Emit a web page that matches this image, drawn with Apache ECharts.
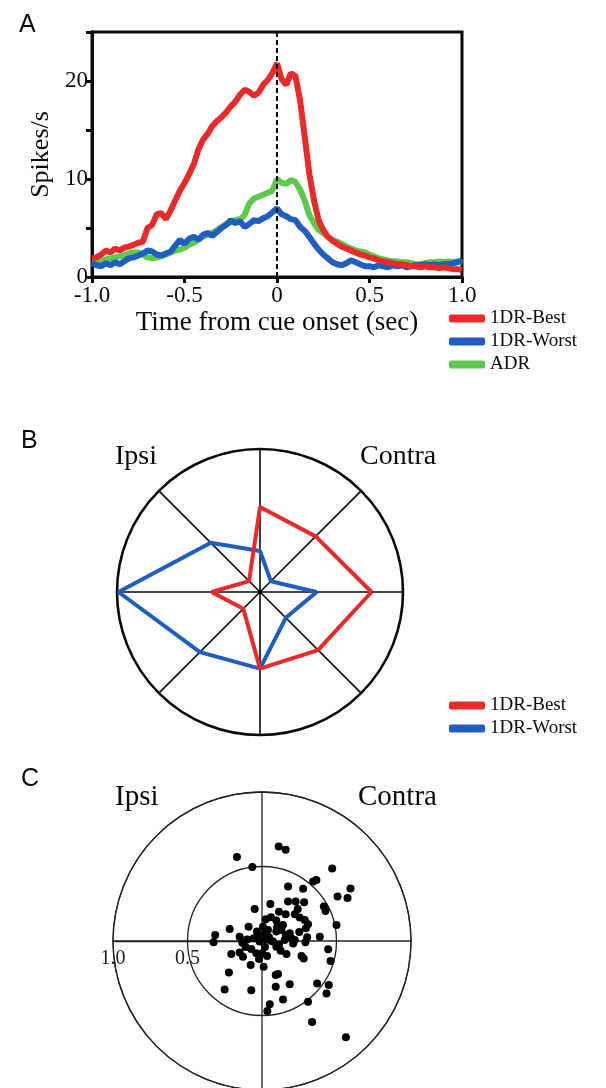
<!DOCTYPE html>
<html>
<head>
<meta charset="utf-8">
<script src="https://cdn.jsdelivr.net/npm/echarts@6/dist/echarts.min.js"></script>
<style>
  html, body { margin: 0; padding: 0; background: #fff; }
  #chart { width: 606px; height: 1088px; }
</style>
</head>
<body>
<div id="chart"></div>
<script>
// ---- Panel A: firing rate around cue onset ----
const timeSec = [];
for (let i = 0; i <= 80; i++) timeSec.push(-1 + i * 0.025);

const rateBest = [
  1.9, 2.0, 2.3, 2.7, 2.5, 2.9, 2.7, 3.0, 3.1, 3.3, 3.5, 3.6, 5.0, 5.3, 6.4, 6.5, 5.9,
  6.8, 7.8, 8.8, 9.6, 10.5, 11.5, 13.0, 14.0, 14.6, 15.4, 15.9, 16.3, 16.8, 17.4, 17.9,
  18.6, 19.1, 18.9, 18.5, 18.8, 19.6, 20.1, 20.8, 21.8, 20.2, 19.6, 20.8, 20.5, 18.0,
  14.3, 10.5, 7.8, 5.8, 4.8, 4.1, 3.7, 3.4, 3.1, 2.9, 2.7, 2.5, 2.3, 2.2, 2.0, 1.9,
  1.7, 1.6, 1.5, 1.4, 1.3, 1.3, 1.2, 1.1, 1.1, 1.0, 1.1, 1.0, 1.0, 0.9, 1.0, 0.9,
  0.8, 0.8, 0.7
];
const rateWorst = [
  1.4, 1.2, 1.1, 1.4, 1.2, 1.5, 1.3, 1.6, 1.9, 2.0, 2.2, 2.4, 2.7, 2.6, 2.3, 2.2, 2.4,
  2.6, 3.2, 3.8, 3.4, 3.9, 4.1, 3.8, 4.3, 4.5, 4.2, 4.6, 5.0, 5.3, 5.8, 5.5, 5.7, 5.1,
  5.4, 5.8, 5.7, 6.0, 6.2, 6.6, 7.0, 6.4, 6.2, 5.9, 5.8, 5.1, 4.7, 4.1, 3.4, 2.8, 2.3,
  1.9, 1.5, 1.3, 1.2, 1.4, 1.7, 1.5, 1.3, 1.1, 1.1, 1.0, 1.2, 1.1, 1.0, 1.2, 1.1, 1.2,
  1.0, 1.1, 1.2, 1.2, 1.3, 1.2, 1.3, 1.2, 1.3, 1.3, 1.4, 1.5, 1.7
];
const rateADR = [
  1.6, 1.5, 1.6, 1.8, 1.9, 2.0, 2.1, 2.2, 2.4, 2.5, 2.5, 2.3, 2.0, 1.9, 2.0, 2.1, 2.3,
  2.5, 2.7, 2.8, 3.0, 3.3, 3.5, 3.8, 4.1, 4.3, 4.5, 4.8, 5.1, 5.4, 5.6, 5.8, 5.9, 6.3,
  7.5, 8.0, 8.2, 8.4, 8.6, 8.8, 10.0, 9.6, 9.5, 9.9, 9.7, 8.9, 7.8, 6.3, 5.5, 4.8, 4.5,
  4.1, 3.8, 3.6, 3.4, 3.1, 2.9, 2.7, 2.6, 2.5, 2.3, 2.1, 1.9, 1.8, 1.7, 1.6, 1.6, 1.5,
  1.5, 1.4, 1.3, 1.3, 1.4, 1.5, 1.5, 1.6, 1.5, 1.6, 1.5, 1.6, 1.5
];

// ---- Panel B: tuning across 8 directions (E, NE, N, NW, W, SW, S, SE) ----
const directionDeg = [0, 45, 90, 135, 180, 225, 270, 315];
const tuningBest  = [0.78, 0.55, 0.594, 0.108, 0.338, 0.165, 0.536, 0.574];
const tuningWorst = [0.396, 0.107, 0.287, 0.487, 0.99, 0.594, 0.536, 0.255];

// ---- Panel C: population vectors (x: contra +, y: up +), outer ring = 1.0 ----
const popVectors = [
  [0.112,0.635],[0.159,0.612],[-0.168,0.563],[-0.065,0.496],[0.471,0.487],[0.343,0.399],
  [0.365,0.41],[0.175,0.365],[0.276,0.350],[0.594,0.352],[0.507,0.298],[0.574,0.289],
  [0.175,0.265],[0.226,0.265],[0.283,0.260],[0.056,0.249],[-0.049,0.215],[0.415,0.231],
  [0.426,0.202],[0.114,0.197],[0.159,0.179],[0.220,0.179],[0.253,0.157],[0.025,0.146],
  [0.096,0.137],[0.141,0.108],[0.101,0.092],[0.287,0.141],[0.309,0.112],[0.294,0.085],
  [0.5,0.108],[-0.217,0.081],[-0.090,0.096],[0.007,0.096],[0.040,0.074],[-0.034,0.063],
  [-0.016,0.034],[0.018,0.047],[0.047,0.025],[0.096,0.063],[0.130,0.074],[0.186,0.052],
  [0.152,0.007],[0.197,0.018],[0.209,-0.016],[0.303,0.025],[0.388,0.029],[-0.314,0.040],
  [-0.325,-0.009],[-0.150,0.029],[-0.132,-0.011],[-0.056,0.018],[-0.016,-0.004],[0.025,0.011],
  [0.074,-0.004],[0.114,-0.027],[0.220,0.007],[0.291,-0.009],[0.444,-0.056],[-0.206,-0.087],
  [-0.150,-0.078],[-0.128,-0.105],[-0.072,-0.054],[-0.038,-0.083],[0.002,-0.083],[0.034,-0.101],
  [0.096,-0.038],[0.164,-0.087],[0.265,-0.101],[0.280,-0.117],[0.460,-0.135],[-0.076,-0.161],
  [0.011,-0.173],[-0.222,-0.211],[0.092,-0.229],[0.108,-0.222],[-0.251,-0.325],[-0.072,-0.330],
  [0.092,-0.307],[0.186,-0.291],[0.370,-0.285],[0.448,-0.296],[0.433,-0.352],[0.141,-0.392],
  [0.309,-0.408],[0.052,-0.424],[0.036,-0.469],[0.336,-0.543],[0.563,-0.646],
  [-0.100,0.010],[0.060,0.002],[0.160,0.040],[0.125,-0.065],[0.020,-0.040],[-0.020,-0.120],
  [0.060,0.160],[0.240,0.215],[-0.110,-0.040],[0.250,0.060]
];

const RED = '#ea2a2a', BLUE = '#1f5ec0', GREEN = '#5cc84c', INK = '#0a0a0a';
const SERIF = '"Liberation Serif", "DejaVu Serif", serif';
const SANS = '"Liberation Sans", Arial, sans-serif';

const pair = (xs, ys) => xs.map((x, i) => [x, ys[i]]);
// closed polygon in polar form [radius, angle]
const ring = (vals) => vals.map((r, i) => [r, directionDeg[i]]).concat([[vals[0], directionDeg[0]]]);
// Cartesian vector -> [radius, angle] with angle measured from the leftward ring axis
const toPolar = ([x, y]) => {
  let a = Math.atan2(y, x) * 180 / Math.PI - 180;
  a = ((a % 360) + 360) % 360;
  return [Math.hypot(x, y), a];
};

const chart = echarts.init(document.getElementById('chart'), null, { renderer: 'canvas' });

const txt = (text, left, top, size, family) => ({
  text, left, top,
  textStyle: { fontFamily: family, fontSize: size, fontWeight: 'normal', color: INK }
});

const legendText = { fontFamily: SERIF, fontSize: 19, color: INK, padding: [0, 0, 0, 0] };

chart.setOption({
  backgroundColor: '#fff',
  animation: false,
  title: [
    txt('A', 14, 8, 25, SANS),
    txt('B', 16, 424, 25, SANS),
    txt('C', 16, 762, 25, SANS),
    txt('Ipsi', 110, 438, 28, SERIF),
    txt('Contra', 355, 438, 28, SERIF),
    txt('Ipsi', 110, 778, 29, SERIF),
    txt('Contra', 353, 778, 29, SERIF)
  ],
  legend: [
    {
      data: ['1DR-Best', '1DR-Worst', 'ADR'],
      orient: 'vertical', left: 444, top: 304, itemGap: 4,
      icon: 'roundRect', itemWidth: 36, itemHeight: 8,
      textStyle: legendText
    },
    {
      data: ['1DR-Best', '1DR-Worst'],
      orient: 'vertical', left: 444, top: 691, itemGap: 4,
      icon: 'roundRect', itemWidth: 36, itemHeight: 8,
      textStyle: legendText
    }
  ],
  grid: {
    left: 92, top: 32, width: 370, height: 245,
    show: true, borderColor: INK, borderWidth: 3, containLabel: false
  },
  xAxis: {
    type: 'value', min: -1, max: 1, interval: 0.5,
    name: 'Time from cue onset (sec)', nameLocation: 'middle', nameGap: 32,
    nameTextStyle: { fontFamily: SERIF, fontSize: 27, color: INK },
    axisLine: { show: true, onZero: false, lineStyle: { color: INK, width: 3 } },
    axisTick: { show: true, length: 6, lineStyle: { color: INK, width: 3 } },
    axisLabel: {
      fontFamily: SERIF, fontSize: 23, color: INK, margin: 7,
      formatter: v => (v === 0 ? '0' : v.toFixed(1))
    },
    splitLine: { show: false }
  },
  yAxis: {
    type: 'value', min: 0, max: 25, interval: 5,
    name: 'Spikes/s', nameLocation: 'middle', nameGap: 36,
    nameTextStyle: { fontFamily: SERIF, fontSize: 26, color: INK },
    axisLine: { show: true, onZero: false, lineStyle: { color: INK, width: 3 } },
    axisTick: { show: true, length: 6, lineStyle: { color: INK, width: 3 } },
    axisLabel: {
      fontFamily: SERIF, fontSize: 23, color: INK, margin: 4,
      formatter: v => (v % 10 === 0 && v < 25 ? String(v) : '')
    },
    splitLine: { show: false }
  },
  polar: [
    { center: [260, 592], radius: 143 },
    { center: [262, 941], radius: 149 }
  ],
  angleAxis: [
    {
      polarIndex: 0, type: 'value', min: 0, max: 360, interval: 45,
      startAngle: 0, clockwise: false,
      axisLine: { show: true, lineStyle: { color: INK, width: 2.6 } },
      axisTick: { show: false }, axisLabel: { show: false },
      splitLine: { show: true, lineStyle: { color: INK, width: 1.6 } }
    },
    {
      polarIndex: 1, type: 'value', min: 0, max: 360, interval: 90,
      startAngle: 180, clockwise: false,
      axisLine: { show: true, lineStyle: { color: '#222', width: 1.3 } },
      axisTick: { show: false }, axisLabel: { show: false },
      splitLine: { show: true, lineStyle: { color: '#222', width: 1.3 } }
    }
  ],
  radiusAxis: [
    {
      polarIndex: 0, type: 'value', min: 0, max: 1,
      axisLine: { show: false }, axisTick: { show: false },
      axisLabel: { show: false }, splitLine: { show: false }
    },
    {
      polarIndex: 1, type: 'value', min: 0, max: 1, interval: 0.5,
      axisLine: { show: true, lineStyle: { color: '#222', width: 1.3 } },
      axisTick: { show: false },
      axisLabel: {
        show: true, inside: true, fontFamily: SERIF, fontSize: 20, color: '#222', margin: 8,
        formatter: v => (v === 0 ? '' : v.toFixed(1))
      },
      splitLine: { show: true, lineStyle: { color: '#222', width: 1.3 } }
    }
  ],
  series: [
    {
      name: 'ADR', type: 'line', data: pair(timeSec, rateADR),
      showSymbol: false, lineStyle: { color: GREEN, width: 6 }, itemStyle: { color: GREEN }, z: 2
    },
    {
      name: '1DR-Worst', type: 'line', data: pair(timeSec, rateWorst),
      showSymbol: false, lineStyle: { color: BLUE, width: 6 }, itemStyle: { color: BLUE }, z: 3
    },
    {
      name: '1DR-Best', type: 'line', data: pair(timeSec, rateBest),
      showSymbol: false, lineStyle: { color: RED, width: 6 }, itemStyle: { color: RED }, z: 4,
      markLine: {
        silent: true, symbol: ['none', 'none'], label: { show: false },
        lineStyle: { color: INK, width: 2, type: [5, 3], opacity: 1 },
        data: [{ xAxis: 0 }], z: 10
      }
    },
    {
      name: '1DR-Best', type: 'line', coordinateSystem: 'polar', polarIndex: 0,
      data: ring(tuningBest), showSymbol: false,
      lineStyle: { color: RED, width: 4 }, itemStyle: { color: RED }, z: 4
    },
    {
      name: '1DR-Worst', type: 'line', coordinateSystem: 'polar', polarIndex: 0,
      data: ring(tuningWorst), showSymbol: false,
      lineStyle: { color: BLUE, width: 4 }, itemStyle: { color: BLUE }, z: 3
    },
    {
      name: 'Population', type: 'scatter', coordinateSystem: 'polar', polarIndex: 1,
      data: popVectors.map(toPolar), symbolSize: 8,
      itemStyle: { color: '#000', opacity: 1 }, z: 5
    }
  ]
});
</script>
</body>
</html>
